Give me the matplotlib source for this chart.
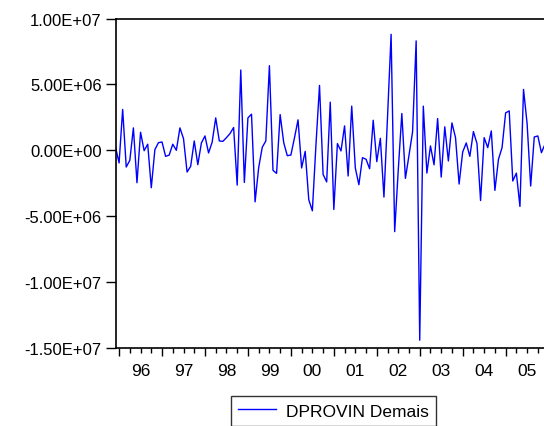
import matplotlib
matplotlib.use("Agg")
import matplotlib.pyplot as plt
import numpy as np

plt.rcParams['font.family'] = ['Liberation Sans', 'DejaVu Sans']

# Monthly series DPROVIN Demais, 1995M12 .. 2005M12 (values in millions)
start_year = 1995
start_month = 12
values_millions = [
    0.25, -0.96, 3.10, -1.27, -0.76, 1.70, -2.46, 1.37, -0.03, 0.46,
    -2.84, 0.05, 0.58, 0.63, -0.46, -0.36, 0.46, 0.00, 1.70, 0.89,
    -1.65, -1.22, 0.71, -1.09, 0.56, 1.09, -0.20, 0.61, 2.46, 0.71,
    0.68, 0.96, 1.27, 1.73, -2.64, 6.09, -2.44, 2.46, 2.74, -3.91,
    -1.32, 0.23, 0.71, 6.42, -1.52, -1.75, 2.71, 0.58, -0.41, -0.36,
    0.94, 2.31, -1.34, -0.08, -3.75, -4.59, 0.38, 4.92, -1.83, -2.40,
    3.65, -4.49, 0.51, -0.05, 1.85, -1.95, 3.35, -1.34, -2.61, -0.56,
    -0.68, -1.40, 2.28, -0.86, 0.91, -3.55, 2.50, 8.80, -6.17, -1.50,
    2.79, -2.13, -0.38, 1.40, 8.30, -14.41, 3.35, -1.73, 0.33, -1.10,
    2.41, -2.03, 1.78, -0.81, 2.08, 0.96, -2.56, -0.13, 0.56, -0.46,
    1.42, 0.51, -3.81, 0.96, 0.20, 1.47, -3.04, -0.68, 0.20, 2.84,
    2.99, -2.33, -1.73, -4.26, 4.62, 2.03, -2.71, 1.01, 1.09, -0.18,
    0.46,
]
series_label = "DPROVIN Demais"
year_ticks = list(range(1996, 2006))
year_labels = ["96", "97", "98", "99", "00", "01", "02", "03", "04", "05"]
y_ticks = [1.0e7, 5.0e6, 0.0, -5.0e6, -1.0e7, -1.5e7]
y_labels = ["1.00E+07", "5.00E+06", "0.00E+00", "-5.00E+06", "-1.00E+07", "-1.50E+07"]

vals = np.array(values_millions) * 1e6
t = start_year + (start_month - 1 + np.arange(len(vals))) / 12.0

W, H = 544, 427
fig = plt.figure(figsize=(W / 100, H / 100), dpi=100)
left_px, right_px, top_px, bottom_px = 115.5, 545.0, 19.5, 349.0
ax = fig.add_axes([left_px / W, 1 - bottom_px / H,
                   (right_px - left_px) / W, (bottom_px - top_px) / H])

line, = ax.plot(t, vals, color='#0000ff', lw=1.0, label=series_label)
ax.set_xlim(t[0], t[-1])
ax.set_ylim(-1.5e7, 1.0e7)

ax.set_yticks(y_ticks)
ax.set_yticklabels(y_labels, fontsize=12)
ax.tick_params(axis='y', direction='out', length=7, width=1.0, pad=3)

ax.set_xticks(year_ticks)
ax.set_xticklabels([])
quarters = [y + q / 4 for y in year_ticks for q in (1, 2, 3)]
ax.set_xticks(quarters, minor=True)
ax.tick_params(axis='x', which='major', direction='out', length=6, width=1.0)
ax.tick_params(axis='x', which='minor', direction='out', length=3.5, width=1.0)

sec = ax.secondary_xaxis('bottom')
sec.set_xticks([y + 0.5 for y in year_ticks])
sec.set_xticklabels(year_labels, fontsize=12.5)
sec.tick_params(length=0, pad=11)
sec.spines['bottom'].set_visible(False)

for s in ['left', 'top', 'bottom', 'right']:
    ax.spines[s].set_linewidth(1.2)
    ax.spines[s].set_color('black')

leg = fig.legend(handles=[line], loc='center', bbox_to_anchor=(333.5 / W, 1 - 412.0 / H),
                 fontsize=12.5, frameon=True, fancybox=False, edgecolor='black',
                 handlelength=2.2, borderpad=0.4, handletextpad=0.6)
leg.get_frame().set_linewidth(1.0)

fig.savefig("out.png", dpi=100)
